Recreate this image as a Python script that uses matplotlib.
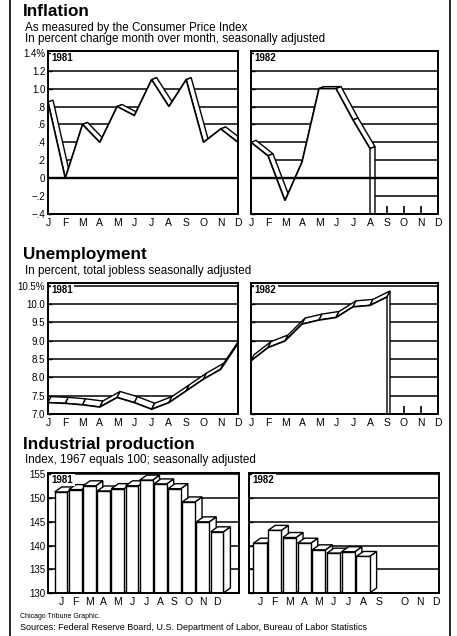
import matplotlib
import numpy as np

matplotlib.use("Agg")
import matplotlib.pyplot as plt
from matplotlib.lines import Line2D
from matplotlib.patches import Polygon, Rectangle

plt.rcParams["font.family"] = ["Liberation Sans", "DejaVu Sans"]

W, H = 457, 636
MONTHS = ["J", "F", "M", "A", "M", "J", "J", "A", "S", "O", "N", "D"]

cpi_1981 = [0.85, 0.0, 0.6, 0.4, 0.8, 0.7, 1.1, 0.8, 1.1, 0.4, 0.55, 0.4]
cpi_1982 = [0.4, 0.25, -0.25, 0.18, 1.0, 1.0, 0.65, 0.33]
cpi_ticks = [1.4, 1.2, 1.0, 0.8, 0.6, 0.4, 0.2, 0.0, -0.2, -0.4]
cpi_labels = ["1.4%", "1.2", "1.0", ".8", ".6", ".4", ".2", "0", "\u2212.2", "\u2212.4"]

jobless_1981 = [7.31, 7.29, 7.25, 7.19, 7.45, 7.31, 7.13, 7.31, 7.63, 7.95, 8.22, 8.92]
jobless_1982 = [8.45, 8.81, 8.99, 9.45, 9.56, 9.63, 9.92, 9.96, 10.19]
jobless_ticks = [10.5, 10.0, 9.5, 9.0, 8.5, 8.0, 7.5, 7.0]
jobless_labels = ["10.5%", "10.0", "9.5", "9.0", "8.5", "8.0", "7.5", "7.0"]

ip_1981 = [151.3, 151.8, 152.6, 151.5, 152.0, 152.6, 153.8, 153.0, 152.0, 149.2, 145.0, 142.9]
ip_1982 = [140.5, 143.2, 141.7, 140.5, 139.1, 138.4, 138.7, 137.7]
ip_ticks = [155, 150, 145, 140, 135, 130]

fig = plt.figure(figsize=(W / 100, H / 100), dpi=100)


def panel(l, r, t, b):
    return fig.add_axes([l / W, 1 - b / H, (r - l) / W, (b - t) / H])


def shift(ax, x, y, dxp, dyp):
    pts = ax.transData.transform(np.column_stack([x, y]))
    return ax.transData.inverted().transform(pts + [dxp, dyp])


def frame(ax, xlim, ylim, ticks, labels, year, grid):
    ax.set_xlim(*xlim); ax.set_ylim(*ylim)
    for s in ax.spines.values():
        s.set_linewidth(1.4); s.set_zorder(10)
    ax.set_yticks(ticks)
    ax.set_yticklabels([] if labels is None else labels)
    ax.tick_params(axis="y", direction="in", length=3, width=1, labelsize=7, pad=2)
    for v in grid:
        ax.axhline(v, color="black", lw=1.1, zorder=1)
    ax.text(0.02, 0.985, year, transform=ax.transAxes, ha="left", va="top",
            fontsize=7, fontweight="bold", zorder=9,
            bbox=dict(fc="white", ec="none", pad=0.8))


def ribbon(ax, x, y, dxp, dyp, end_face):
    x = np.asarray(x, float); y = np.asarray(y, float)
    bottom = ax.get_ylim()[0]
    back = shift(ax, x, y, dxp, dyp)
    for i in range(len(x) - 1):
        ax.add_patch(Polygon([(x[i], y[i]), (x[i + 1], y[i + 1]), back[i + 1], back[i]],
                             closed=True, fc="white", ec="black", lw=1.0, zorder=3))
    # front face of the solid hides the gridlines below the curve
    face = [(x[0], bottom)] + list(zip(x, y)) + [(x[-1], bottom)]
    ax.add_patch(Polygon(face, closed=True, fc="white", ec="none", lw=0, zorder=4))
    if end_face:
        ax.add_patch(Polygon([(x[-1], y[-1]), back[-1], (back[-1][0], bottom), (x[-1], bottom)],
                             closed=True, fc="white", ec="black", lw=1.0, zorder=4.5))
    ax.plot(x, y, color="black", lw=1.2, zorder=5, solid_joinstyle="miter")


def bars3d(ax, vals, width, dxp, dyp):
    base = ax.get_ylim()[0]
    for i, v in enumerate(vals):
        x0, x1 = i - width / 2, i + width / 2
        c = shift(ax, [x0, x1, x1], [v, v, base], dxp, dyp)
        z = 3 + i * 0.1
        ax.add_patch(Polygon([(x1, base), (x1, v), c[1], c[2]], closed=True,
                             fc="white", ec="black", lw=1.0, zorder=z))
        ax.add_patch(Polygon([(x0, v), (x1, v), c[1], c[0]], closed=True,
                             fc="white", ec="black", lw=1.0, zorder=z))
        ax.add_patch(Rectangle((x0, base), width, v - base, fc="white",
                               ec="black", lw=1.0, zorder=z + 0.05))


def months(ax, pos, ticks):
    ax.set_xticks(pos)
    ax.set_xticklabels(MONTHS)
    ax.tick_params(axis="x", direction="in", length=6 if ticks else 0, width=1.2,
                   labelsize=7.5, pad=3)


def heading(y, title, subs):
    fig.text(23 / W, 1 - y / H, title, fontsize=12.3, fontweight="bold", va="center")
    for k, s in enumerate(subs):
        fig.text(25 / W, 1 - (y + 16 + 11 * k) / H, s, fontsize=8.4, va="center")


# --- Inflation ---------------------------------------------------------------
heading(12, "Inflation", ["As measured by the Consumer Price Index",
                          "In percent change month over month, seasonally adjusted"])
for l, r, vals, lab, yr, end in [(48, 238, cpi_1981, cpi_labels, "1981", False),
                                 (251, 438, cpi_1982, None, "1982", True)]:
    ax = panel(l, r, 51, 214)
    frame(ax, (0, 11), (-0.4, 1.42), cpi_ticks, lab, yr, cpi_ticks[1:-1])
    ribbon(ax, range(len(vals)), vals, 5, 2, end)
    ax.axhline(0, color="black", lw=1.7, zorder=6)
    months(ax, range(12), True)

# --- Unemployment ------------------------------------------------------------
heading(255, "Unemployment", ["In percent, total jobless seasonally adjusted"])
for l, r, vals, lab, yr, end in [(48, 238, jobless_1981, jobless_labels, "1981", False),
                                 (251, 438, jobless_1982, None, "1982", True)]:
    ax = panel(l, r, 283, 414)
    frame(ax, (0, 11), (7.0, 10.57), jobless_ticks, lab, yr, jobless_ticks[:-1])
    ribbon(ax, range(len(vals)), vals, 3, 6, end)
    months(ax, range(12), True)

# --- Industrial production ---------------------------------------------------
heading(444, "Industrial production", ["Index, 1967 equals 100; seasonally adjusted"])
for l, r, vals, lab, yr, xl, mpos in [
        (48, 239, ip_1981, [str(t) for t in ip_ticks], "1981", (-0.92, 12.55), range(12)),
        (249, 439, ip_1982, None, "1982", (-0.75, 12.17),
         [0, 1, 2, 3, 4, 5, 6, 7, 8.1, 9.8, 10.9, 11.95])]:
    ax = panel(l, r, 473, 593)
    frame(ax, xl, (130, 155.3), ip_ticks, lab, yr, ip_ticks[:-1])
    bars3d(ax, vals, 0.9, 7, 5)
    months(ax, mpos, False)

# --- credits and border --------------------------------------------------------
fig.text(20 / W, 1 - 617 / H, "Chicago Tribune Graphic.", fontsize=5, va="center")
fig.text(20 / W, 1 - 628 / H, "Sources: Federal Reserve Board, U.S. Department of Labor, "
         "Bureau of Labor Statistics", fontsize=6.5, va="center")
for xp in (10, 450):
    fig.add_artist(Line2D([xp / W, xp / W], [0, 1], color="black", lw=1.2))

fig.savefig("out.png", dpi=100)
